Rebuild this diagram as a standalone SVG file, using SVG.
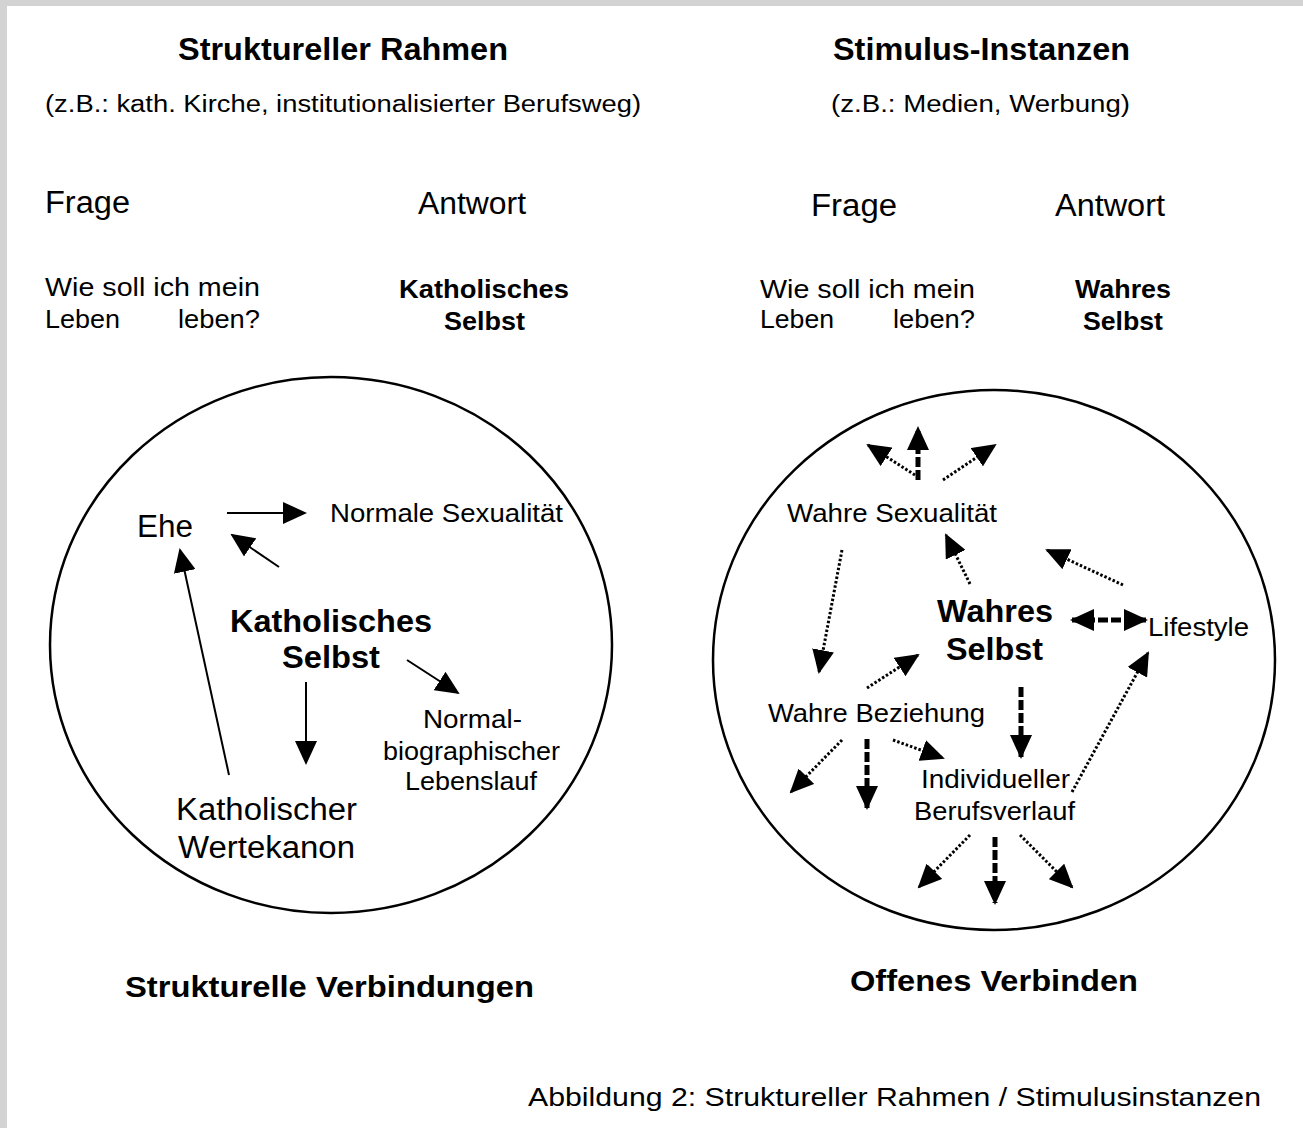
<svg xmlns="http://www.w3.org/2000/svg" width="1303" height="1128" viewBox="0 0 1303 1128">
<style>
text{font-family:"Liberation Sans",Arial,sans-serif;fill:#000}
.b{font-weight:bold}
.ln{fill:none;stroke:#000;stroke-width:2}
.dot{fill:none;stroke:#000;stroke-width:3;stroke-dasharray:2.5 2}
.dsh{fill:none;stroke:#000;stroke-width:5;stroke-dasharray:10 3}
.circ{fill:none;stroke:#000;stroke-width:2.5}
</style>
<defs>
<marker id="ah" viewBox="0 0 24 22" refX="22" refY="11" markerWidth="24" markerHeight="22" markerUnits="userSpaceOnUse" orient="auto-start-reverse">
<path d="M0,0 L24,11 L0,22 Z" fill="#000"/>
</marker>
</defs>
<rect x="0" y="0" width="1303" height="1128" fill="#fff"/>
<rect x="0" y="0" width="1303" height="6" fill="#d3d3d3"/>
<rect x="0" y="0" width="7" height="1128" fill="#d3d3d3"/>

<g id="header-left">
<text class="b" x="178" y="60" font-size="31" textLength="330" lengthAdjust="spacingAndGlyphs">Struktureller Rahmen</text>
<text x="45" y="112" font-size="23" textLength="596" lengthAdjust="spacingAndGlyphs">(z.B.: kath. Kirche, institutionalisierter Berufsweg)</text>
<text x="45" y="213" font-size="31" textLength="85" lengthAdjust="spacingAndGlyphs">Frage</text>
<text x="418" y="214" font-size="31" textLength="108" lengthAdjust="spacingAndGlyphs">Antwort</text>
<text x="45" y="296" font-size="25" textLength="215" lengthAdjust="spacingAndGlyphs">Wie soll ich mein</text>
<text x="45" y="328" font-size="25" textLength="75" lengthAdjust="spacingAndGlyphs">Leben</text>
<text x="178" y="328" font-size="25" textLength="82" lengthAdjust="spacingAndGlyphs">leben?</text>
<text class="b" x="399" y="298" font-size="25" textLength="170" lengthAdjust="spacingAndGlyphs">Katholisches</text>
<text class="b" x="444" y="330" font-size="25" textLength="81" lengthAdjust="spacingAndGlyphs">Selbst</text>
</g>

<g id="header-right">
<text class="b" x="833" y="60" font-size="31" textLength="297" lengthAdjust="spacingAndGlyphs">Stimulus-Instanzen</text>
<text x="831" y="112" font-size="23" textLength="299" lengthAdjust="spacingAndGlyphs">(z.B.: Medien, Werbung)</text>
<text x="811" y="216" font-size="31" textLength="86" lengthAdjust="spacingAndGlyphs">Frage</text>
<text x="1055" y="216" font-size="31" textLength="110" lengthAdjust="spacingAndGlyphs">Antwort</text>
<text x="760" y="298" font-size="25" textLength="215" lengthAdjust="spacingAndGlyphs">Wie soll ich mein</text>
<text x="760" y="328" font-size="25" textLength="74" lengthAdjust="spacingAndGlyphs">Leben</text>
<text x="893" y="328" font-size="25" textLength="82" lengthAdjust="spacingAndGlyphs">leben?</text>
<text class="b" x="1075" y="298" font-size="25" textLength="96" lengthAdjust="spacingAndGlyphs">Wahres</text>
<text class="b" x="1083" y="330" font-size="25" textLength="80" lengthAdjust="spacingAndGlyphs">Selbst</text>
</g>

<g id="circle-left"><ellipse class="circ" cx="331" cy="645" rx="281" ry="268"/></g>
<g id="circle-right"><ellipse class="circ" cx="994" cy="660" rx="281" ry="270"/></g>

<g id="node-ehe"><text x="137" y="537" font-size="31" textLength="56" lengthAdjust="spacingAndGlyphs">Ehe</text></g>
<g id="node-normale-sexualitaet"><text x="330" y="522" font-size="25" textLength="233" lengthAdjust="spacingAndGlyphs">Normale Sexualität</text></g>
<g id="node-katholisches-selbst">
<text class="b" x="230" y="632" font-size="31" textLength="202" lengthAdjust="spacingAndGlyphs">Katholisches</text>
<text class="b" x="282" y="668" font-size="31" textLength="98" lengthAdjust="spacingAndGlyphs">Selbst</text>
</g>
<g id="node-normalbiographischer">
<text x="423" y="728" font-size="25" textLength="99" lengthAdjust="spacingAndGlyphs">Normal-</text>
<text x="383" y="760" font-size="25" textLength="177" lengthAdjust="spacingAndGlyphs">biographischer</text>
<text x="405" y="790" font-size="25" textLength="132" lengthAdjust="spacingAndGlyphs">Lebenslauf</text>
</g>
<g id="node-wertekanon">
<text x="176" y="820" font-size="31" textLength="181" lengthAdjust="spacingAndGlyphs">Katholischer</text>
<text x="178" y="858" font-size="31" textLength="177" lengthAdjust="spacingAndGlyphs">Wertekanon</text>
</g>

<g id="node-wahre-sexualitaet"><text x="787" y="522" font-size="25" textLength="210" lengthAdjust="spacingAndGlyphs">Wahre Sexualität</text></g>
<g id="node-wahres-selbst">
<text class="b" x="937" y="622" font-size="31" textLength="116" lengthAdjust="spacingAndGlyphs">Wahres</text>
<text class="b" x="946" y="660" font-size="31" textLength="97" lengthAdjust="spacingAndGlyphs">Selbst</text>
</g>
<g id="node-lifestyle"><text x="1148" y="636" font-size="25" textLength="101" lengthAdjust="spacingAndGlyphs">Lifestyle</text></g>
<g id="node-wahre-beziehung"><text x="768" y="722" font-size="25" textLength="217" lengthAdjust="spacingAndGlyphs">Wahre Beziehung</text></g>
<g id="node-berufsverlauf">
<text x="921" y="788" font-size="25" textLength="149" lengthAdjust="spacingAndGlyphs">Individueller</text>
<text x="914" y="820" font-size="25" textLength="161" lengthAdjust="spacingAndGlyphs">Berufsverlauf</text>
</g>

<g id="connectors">
<line class="ln" x1="227" y1="513" x2="305" y2="513" marker-end="url(#ah)"/>
<line class="ln" x1="279" y1="567" x2="232" y2="535" marker-end="url(#ah)"/>
<line class="ln" x1="229" y1="775" x2="180" y2="550" marker-end="url(#ah)"/>
<line class="ln" x1="306" y1="682" x2="306" y2="763" marker-end="url(#ah)"/>
<line class="ln" x1="407" y1="660" x2="458" y2="693" marker-end="url(#ah)"/>

<line class="dot" x1="915" y1="475" x2="868" y2="445" marker-end="url(#ah)"/>
<line class="dsh" x1="918" y1="480" x2="918" y2="428" marker-end="url(#ah)"/>
<line class="dot" x1="943" y1="480" x2="995" y2="445" marker-end="url(#ah)"/>
<line class="dot" x1="842" y1="550" x2="819" y2="672" marker-end="url(#ah)"/>
<line class="dot" x1="970" y1="584" x2="946" y2="535" marker-end="url(#ah)"/>
<line class="dot" x1="1123" y1="585" x2="1047" y2="550" marker-end="url(#ah)"/>
<line class="dsh" x1="1072" y1="620" x2="1146" y2="620" marker-start="url(#ah)" marker-end="url(#ah)"/>
<line class="dot" x1="867" y1="688" x2="918" y2="655" marker-end="url(#ah)"/>
<line class="dsh" x1="1021" y1="687" x2="1021" y2="757" marker-end="url(#ah)"/>
<line class="dot" x1="842" y1="740" x2="791" y2="792" marker-end="url(#ah)"/>
<line class="dsh" x1="867" y1="739" x2="867" y2="808" marker-end="url(#ah)"/>
<line class="dot" x1="893" y1="740" x2="943" y2="758" marker-end="url(#ah)"/>
<line class="dot" x1="1072" y1="792" x2="1148" y2="653" marker-end="url(#ah)"/>
<line class="dot" x1="970" y1="835" x2="919" y2="887" marker-end="url(#ah)"/>
<line class="dsh" x1="995" y1="837" x2="995" y2="903" marker-end="url(#ah)"/>
<line class="dot" x1="1020" y1="835" x2="1072" y2="887" marker-end="url(#ah)"/>
</g>

<g id="footer">
<text class="b" x="125" y="997" font-size="30" textLength="409" lengthAdjust="spacingAndGlyphs">Strukturelle Verbindungen</text>
<text class="b" x="850" y="991" font-size="30" textLength="288" lengthAdjust="spacingAndGlyphs">Offenes Verbinden</text>
<text x="528" y="1106" font-size="26" textLength="733" lengthAdjust="spacingAndGlyphs">Abbildung 2: Struktureller Rahmen / Stimulusinstanzen</text>
</g>
</svg>
